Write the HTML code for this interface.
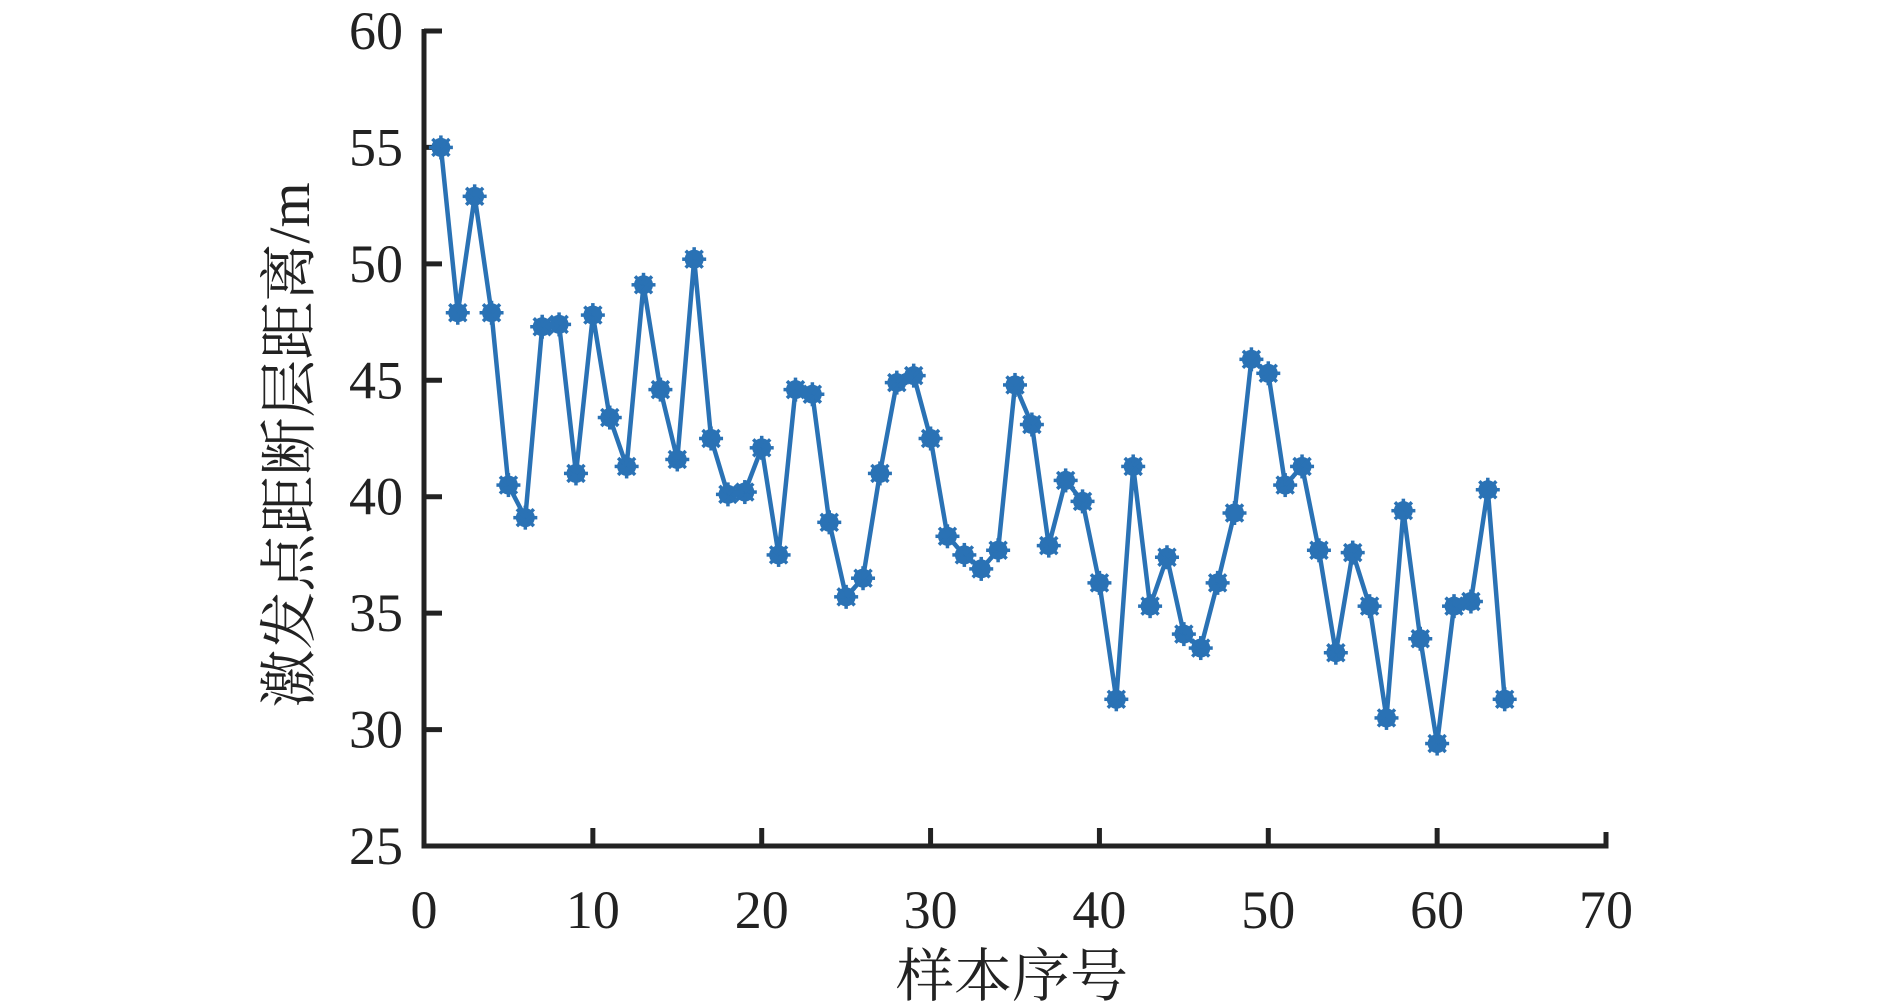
<!DOCTYPE html>
<html><head><meta charset="utf-8"><style>
html,body{margin:0;padding:0;background:#fff;width:1890px;height:1008px;overflow:hidden}
svg text{font-family:"Liberation Serif","Noto Serif CJK SC",serif;fill:#222}
</style></head><body>
<svg id="s" width="1890" height="1008" viewBox="0 0 1890 1008" xmlns="http://www.w3.org/2000/svg">
<g id="axes" stroke="#222" stroke-width="5" fill="none">
<path d="M424,29 L424,846 L1606,846 L1606,832"/>
</g>
<g id="ticks" stroke="#222" stroke-width="5"></g>
<g id="lbl" font-size="54"></g>
<polyline id="ln" fill="none" stroke="#2a72b5" stroke-width="4.5" stroke-linejoin="round"/>
<g id="mk" fill="#2a72b5"></g>
<text x="1012" y="996" font-size="58" text-anchor="middle">样本序号</text>
<text transform="translate(309,445) rotate(-90)" font-size="58" text-anchor="middle">激发点距断层距离/m</text>
</svg>
<script>
var d=[55.0,47.9,52.9,47.9,40.5,39.1,47.3,47.4,41.0,47.8,43.4,41.3,49.1,44.6,41.6,50.2,42.5,40.1,40.2,42.1,37.5,44.6,44.4,38.9,35.7,36.5,41.0,44.9,45.2,42.5,38.3,37.5,36.9,37.7,44.8,43.1,37.9,40.7,39.8,36.3,31.3,41.3,35.3,37.4,34.1,33.5,36.3,39.3,45.9,45.3,40.5,41.3,37.7,33.3,37.6,35.3,30.5,39.4,33.9,29.4,35.3,35.5,40.3,31.3];
function X(v){return 424+(1606-424)*v/70}
function Y(v){return 846-(v-25)*(846-31)/35}
var ns="http://www.w3.org/2000/svg";
var t=document.getElementById('ticks'),l=document.getElementById('lbl');
function el(tag,a,p,txt){var e=document.createElementNS(ns,tag);for(var k in a)e.setAttribute(k,a[k]);if(txt!=null)e.textContent=txt;p.appendChild(e);}
for(var v=25;v<=60;v+=5){var y=Y(v);el('line',{x1:424,y1:y,x2:442,y2:y},t);el('text',{x:403,y:y+18,'text-anchor':'end'},l,v);}
for(var v=0;v<=70;v+=10){var x=X(v);if(v>0&&v<70)el('line',{x1:x,y1:846,x2:x,y2:828},t);el('text',{x:x,y:928,'text-anchor':'middle'},l,v);}
var pts=d.map(function(v,i){return X(i+1).toFixed(1)+','+Y(v).toFixed(1)}).join(' ');
document.getElementById('ln').setAttribute('points',pts);
var m=document.getElementById('mk');
d.forEach(function(v,i){var x=X(i+1),y=Y(v);el('circle',{cx:x,cy:y,r:9.5},m);
for(var a=0;a<8;a++){var an=a*Math.PI/4;el('line',{x1:x,y1:y,x2:x+12*Math.cos(an),y2:y+12*Math.sin(an),stroke:'#2a72b5','stroke-width':3.5},m);}});
</script>
</body></html>
